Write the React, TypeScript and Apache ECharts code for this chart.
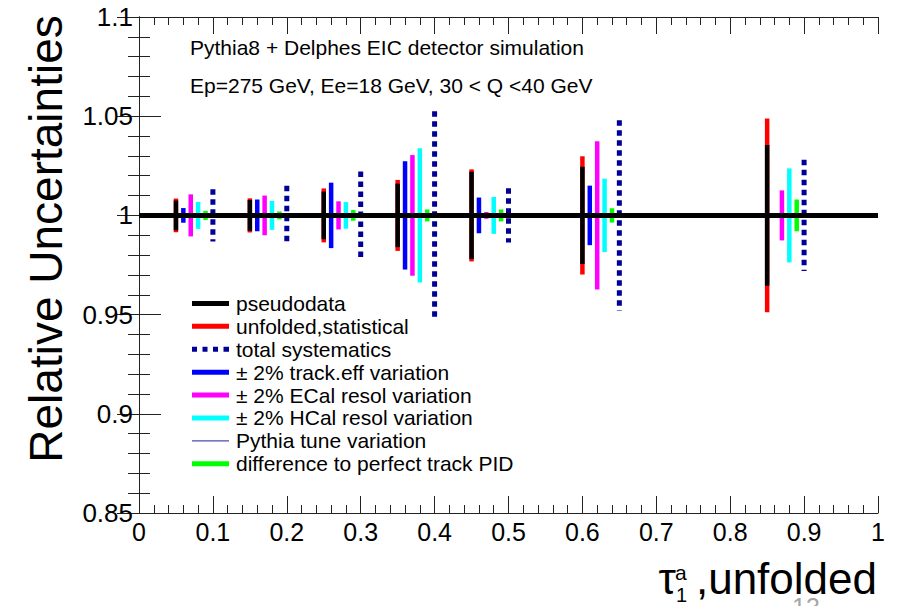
import React, { useEffect, useRef } from "react";
import * as echarts from "echarts";

// ---- data ----
const binCenters = [0.05, 0.15, 0.25, 0.35, 0.45, 0.6, 0.85];
// half-widths of the relative uncertainty bands around 1
const pseudodataErr = [0.0075, 0.0078, 0.012, 0.016, 0.022, 0.0245, 0.0355];
const statErr = [0.0085, 0.0086, 0.0136, 0.0179, 0.0232, 0.0298, 0.0488];
const totalSystErr = [0.0132, 0.0149, 0.0221, 0.0525, 0.0137, 0.048, 0.028];
const trackEffErr = [0.0037, 0.008, 0.0165, 0.0273, 0.009, 0.015, 0];
const ecalErr = [0.0106, 0.01, 0.0071, 0.0304, 0.0017, 0.0374, 0.0126];
const hcalErr = [0.0068, 0.0073, 0.0067, 0.0338, 0.0093, 0.0185, 0.0237];
const pythiaErr: number[] = [];
const pidErr = [0.0023, 0.002, 0.0027, 0.003, 0.003, 0.0036, 0.008];
// x shift of each variation inside a bin (data units)
const seriesOffsets = {
  pseudodata: 0,
  stat: 0,
  trackEff: 0.01,
  ecal: 0.02,
  hcal: 0.03,
  pid: 0.04,
  totalSyst: 0.05,
};
const xTickLabels = ["0", "0.1", "0.2", "0.3", "0.4", "0.5", "0.6", "0.7", "0.8", "0.9", "1"];
const yTickLabels = ["0.85", "0.9", "0.95", "1", "1.05", "1.1"];
const referenceLine = [
  [0, 1],
  [1, 1],
];

const FONT = "'Liberation Sans', Arial, Helvetica, sans-serif";

const toData = (errs: number[], offset: number) =>
  errs.map((e, i) => [binCenters[i] + offset, 1 + e, 1 - e]);

const makeRender =
  (color: string, width: number, dashed: boolean) => (params: any, api: any) => {
    const x = api.value(0);
    const hi = api.coord([x, api.value(1)]);
    const lo = api.coord([x, api.value(2)]);
    if (Math.abs(lo[1] - hi[1]) < 0.5) return null;
    if (dashed) {
      return {
        type: "line",
        shape: { x1: hi[0], y1: hi[1], x2: lo[0], y2: lo[1] },
        style: { stroke: color, lineWidth: width, lineDash: [5.5, 4.5] },
      };
    }
    return {
      type: "rect",
      shape: { x: hi[0] - width / 2, y: hi[1], width, height: lo[1] - hi[1] },
      style: { fill: color },
    };
  };

const errSeries = (
  name: string,
  errs: number[],
  offset: number,
  color: string,
  width: number,
  dashed = false,
  z = 2
) => ({
  type: "custom",
  name,
  data: toData(errs, offset),
  encode: { x: 0, y: [1, 2] },
  itemStyle: { color },
  renderItem: makeRender(color, width, dashed),
  silent: true,
  z,
});

const fmt = (labels: string[]) => (v: number) => {
  const f = labels.find((l) => Math.abs(parseFloat(l) - v) < 1e-6);
  return f === undefined ? "" : f;
};

export default function App() {
  const ref = useRef<HTMLDivElement>(null);
  useEffect(() => {
    if (!ref.current) return;
    const chart = echarts.init(ref.current, null, { renderer: "svg" });
    const axisLine = { show: true, lineStyle: { color: "#222", width: 1 } };
    const xBase = {
      type: "value",
      min: 0,
      max: 1,
      interval: 0.1,
      axisLine,
      splitLine: { show: false },
      axisTick: { show: true, inside: true, length: 17, lineStyle: { color: "#222", width: 1 } },
      minorTick: { show: true, splitNumber: 5, length: 8, lineStyle: { color: "#222", width: 1 } },
    };
    const yBase = {
      type: "value",
      min: 0.85,
      max: 1.1,
      interval: 0.05,
      axisLine,
      splitLine: { show: false },
      axisTick: { show: true, inside: true, length: 22, lineStyle: { color: "#222", width: 1 } },
      minorTick: { show: true, splitNumber: 5, length: 11, lineStyle: { color: "#222", width: 1 } },
    };
    chart.setOption({
      animation: false,
      backgroundColor: "#ffffff",
      grid: { left: 139, right: 29, top: 17, bottom: 93, containLabel: false },
      xAxis: [
        {
          ...xBase,
          position: "bottom",
          axisLabel: {
            show: true,
            fontFamily: FONT,
            fontSize: 25,
            color: "#000",
            margin: 6,
            showMinLabel: true,
            showMaxLabel: true,
            formatter: fmt(xTickLabels),
          },
        },
        { ...xBase, position: "top", axisLabel: { show: false } },
      ],
      yAxis: [
        {
          ...yBase,
          position: "left",
          axisLabel: {
            show: true,
            fontFamily: FONT,
            fontSize: 26,
            color: "#000",
            margin: 6,
            showMinLabel: true,
            showMaxLabel: true,
            formatter: fmt(yTickLabels),
          },
        },
        { ...yBase, position: "right", axisLabel: { show: false } },
      ],
      legend: {
        show: true,
        orient: "vertical",
        left: 192,
        top: 292,
        padding: 0,
        itemGap: 0,
        itemWidth: 37,
        itemHeight: 5,
        selectedMode: false,
        itemStyle: { borderWidth: 0 },
        textStyle: {
          fontFamily: FONT,
          fontSize: 21,
          lineHeight: 22.9,
          color: "#000",
          padding: [0, 0, 0, 2],
        },
        data: [
          { name: "pseudodata", icon: "rect", itemStyle: { color: "#000000", borderWidth: 0 } },
          { name: "unfolded,statistical", icon: "rect", itemStyle: { color: "#ff0000", borderWidth: 0 } },
          {
            name: "total systematics",
            icon: "path://M0 0h5v5h-5zM10.5 0h5v5h-5zM21 0h5v5h-5zM31.5 0h5.5v5h-5.5z",
            itemStyle: { color: "#000099", borderWidth: 0 },
          },
          { name: "± 2% track.eff variation", icon: "rect", itemStyle: { color: "#0000ff", borderWidth: 0 } },
          { name: "± 2% ECal resol variation", icon: "rect", itemStyle: { color: "#ff00ff", borderWidth: 0 } },
          { name: "± 2% HCal resol variation", icon: "rect", itemStyle: { color: "#00ffff", borderWidth: 0 } },
          {
            name: "Pythia tune variation",
            icon: "path://M0 0M0 1.9h37v1.3h-37zM37 5",
            itemStyle: { color: "#4b4bb0", borderWidth: 0 },
          },
          { name: "difference to perfect track PID", icon: "rect", itemStyle: { color: "#00ff00", borderWidth: 0 } },
        ],
      },
      series: [
        errSeries("unfolded,statistical", statErr, seriesOffsets.stat, "#ff0000", 4.5, false, 2),
        errSeries("pseudodata", pseudodataErr, seriesOffsets.pseudodata, "#000000", 4.5, false, 3),
        errSeries("± 2% track.eff variation", trackEffErr, seriesOffsets.trackEff, "#0000ff", 4.5, false, 3),
        errSeries("± 2% ECal resol variation", ecalErr, seriesOffsets.ecal, "#ff00ff", 4.5, false, 3),
        errSeries("± 2% HCal resol variation", hcalErr, seriesOffsets.hcal, "#00ffff", 4.5, false, 3),
        errSeries("Pythia tune variation", pythiaErr, 0, "#4b4bb0", 1.3, false, 3),
        errSeries("difference to perfect track PID", pidErr, seriesOffsets.pid, "#00ff00", 4.5, false, 3),
        errSeries("total systematics", totalSystErr, seriesOffsets.totalSyst, "#000099", 5, true, 3),
        {
          type: "line",
          name: "reference",
          data: referenceLine,
          symbol: "none",
          lineStyle: { color: "#000", width: 5 },
          silent: true,
          z: 10,
        },
      ],
      graphic: [
        {
          type: "text",
          left: 190,
          top: 37,
          style: { text: "Pythia8 + Delphes EIC detector simulation", fontFamily: FONT, fontSize: 21, fill: "#000" },
        },
        {
          type: "text",
          left: 190,
          top: 75,
          style: { text: "Ep=275 GeV, Ee=18 GeV, 30 < Q <40 GeV", fontFamily: FONT, fontSize: 21, fill: "#000" },
        },
        {
          type: "text",
          x: 46,
          y: 239,
          rotation: Math.PI / 2,
          style: {
            text: "Relative Uncertainties",
            fontFamily: FONT,
            fontSize: 46,
            fill: "#000",
            align: "center",
            verticalAlign: "middle",
          },
        },
        {
          type: "text",
          x: 877,
          y: 578,
          style: { text: ",unfolded", fontFamily: FONT, fontSize: 44, fill: "#000", align: "right", verticalAlign: "middle" },
        },
        {
          type: "text",
          x: 676,
          y: 578,
          style: { text: "τ", fontFamily: FONT, fontSize: 44, fill: "#000", align: "right", verticalAlign: "middle" },
        },
        {
          type: "text",
          x: 675,
          y: 572,
          style: { text: "a", fontFamily: FONT, fontSize: 21, fill: "#000", align: "left", verticalAlign: "middle" },
        },
        {
          type: "text",
          x: 676,
          y: 595,
          style: { text: "1", fontFamily: FONT, fontSize: 20, fill: "#000", align: "left", verticalAlign: "middle" },
        },
        {
          type: "text",
          x: 792,
          y: 594,
          style: { text: "13", fontFamily: FONT, fontSize: 25, fill: "#a6a6a6", align: "left", verticalAlign: "top" },
        },
      ],
    });
    return () => chart.dispose();
  }, []);
  return (
    <div
      ref={ref}
      style={{ position: "fixed", left: 0, top: 0, width: 907, height: 606, background: "#fff" }}
    />
  );
}
